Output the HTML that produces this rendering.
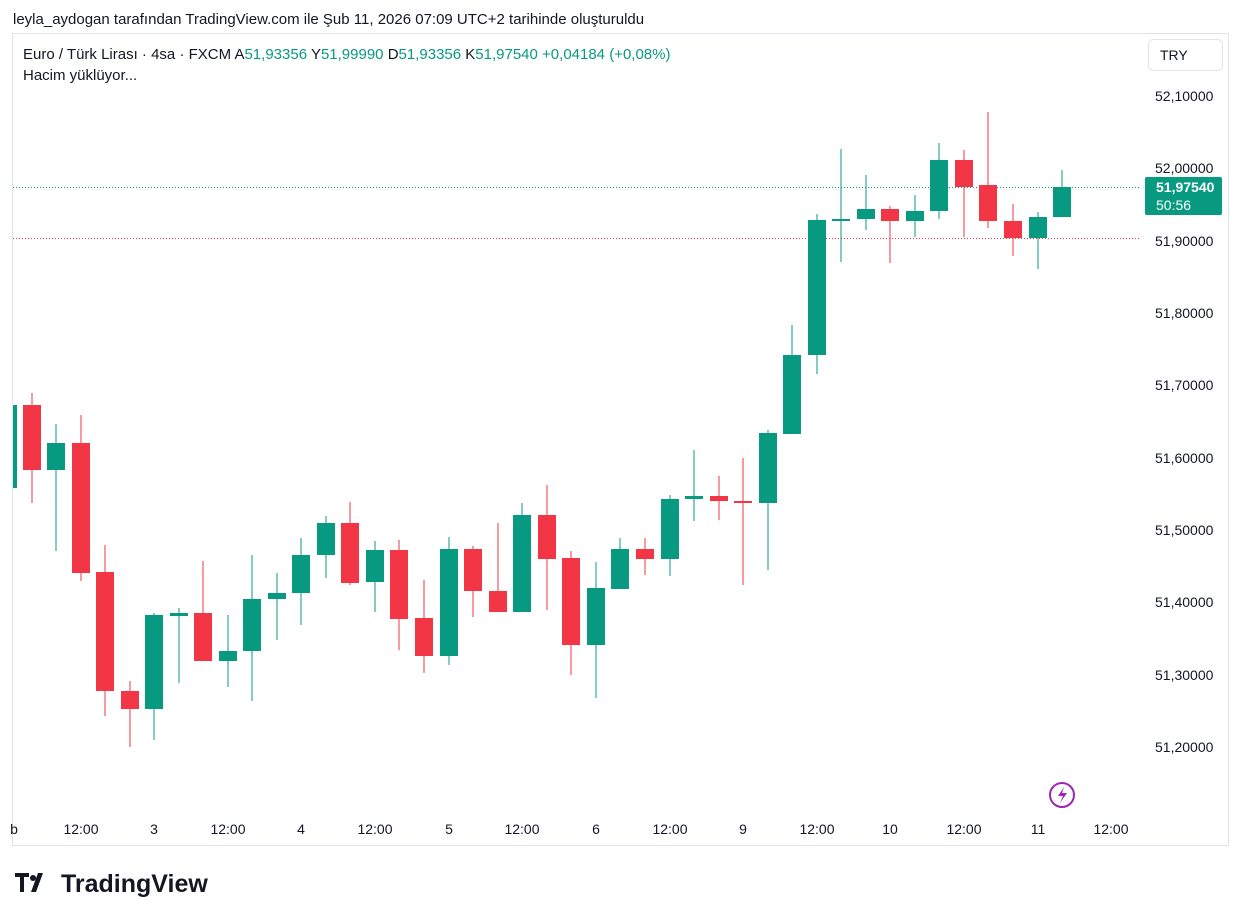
<!DOCTYPE html>
<html><head><meta charset="utf-8"><style>
html,body{margin:0;padding:0;background:#fff;}
svg{display:block;font-family:"Liberation Sans",sans-serif;}
</style></head><body>
<svg width="1242" height="921" xmlns="http://www.w3.org/2000/svg">
<rect width="1242" height="921" fill="#fff"/>
<text x="13" y="24" font-size="15" fill="#131722">leyla_aydogan tarafından TradingView.com ile Şub 11, 2026 07:09 UTC+2 tarihinde oluşturuldu</text>
<rect x="12.5" y="33.5" width="1216" height="812" fill="none" stroke="#e0e3eb"/>
<text x="23" y="59" font-size="15" fill="#131722">Euro / Türk Lirası · 4sa · FXCM <tspan>A</tspan><tspan fill="#089981">51,93356</tspan> Y<tspan fill="#089981">51,99990</tspan> D<tspan fill="#089981">51,93356</tspan> K<tspan fill="#089981">51,97540</tspan> <tspan fill="#089981">+0,04184 (+0,08%)</tspan></text>
<text x="23" y="80" font-size="15" fill="#131722">Hacim yüklüyor...</text>
<rect x="1148.5" y="39.5" width="74" height="31" rx="5" fill="#fff" stroke="#e0e3eb"/>
<text x="1160" y="60" font-size="14" fill="#131722">TRY</text>
<g font-size="14" fill="#131722">
<text x="1155" y="101">52,10000</text>
<text x="1155" y="173">52,00000</text>
<text x="1155" y="246">51,90000</text>
<text x="1155" y="318">51,80000</text>
<text x="1155" y="390">51,70000</text>
<text x="1155" y="463">51,60000</text>
<text x="1155" y="535">51,50000</text>
<text x="1155" y="607">51,40000</text>
<text x="1155" y="680">51,30000</text>
<text x="1155" y="752">51,20000</text>
</g>
<line x1="13" y1="187.5" x2="1140" y2="187.5" stroke="#089981" stroke-dasharray="1,2"/>
<line x1="13" y1="238.5" x2="1140" y2="238.5" stroke="#f23645" stroke-dasharray="1,2"/>
<rect x="1145" y="177" width="77" height="38" rx="2" fill="#089981"/>
<text x="1156" y="192" font-size="14" font-weight="bold" fill="#fff">51,97540</text>
<text x="1156" y="210" font-size="14" fill="#fff">50:56</text>
<g fill="#089981">
<rect x="13" y="405" width="4" height="83"/>
<rect x="55.5" y="424" width="1" height="127"/><rect x="47" y="443" width="18" height="27"/>
<rect x="153.5" y="613" width="1" height="127"/><rect x="145" y="615" width="18" height="94"/>
<rect x="178.5" y="608" width="1" height="75"/><rect x="170" y="613" width="18" height="3"/>
<rect x="227.5" y="615" width="1" height="72"/><rect x="219" y="651" width="18" height="10"/>
<rect x="251.5" y="555" width="1" height="146"/><rect x="243" y="599" width="18" height="52"/>
<rect x="276.5" y="573" width="1" height="67"/><rect x="268" y="593" width="18" height="6"/>
<rect x="300.5" y="538" width="1" height="87"/><rect x="292" y="555" width="18" height="38"/>
<rect x="325.5" y="516" width="1" height="62"/><rect x="317" y="523" width="18" height="32"/>
<rect x="374.5" y="541" width="1" height="71"/><rect x="366" y="550" width="18" height="32"/>
<rect x="448.5" y="537" width="1" height="128"/><rect x="440" y="549" width="18" height="107"/>
<rect x="521.5" y="503" width="1" height="109"/><rect x="513" y="515" width="18" height="97"/>
<rect x="595.5" y="562" width="1" height="136"/><rect x="587" y="588" width="18" height="57"/>
<rect x="619.5" y="538" width="1" height="51"/><rect x="611" y="549" width="18" height="40"/>
<rect x="669.5" y="495" width="1" height="81"/><rect x="661" y="499" width="18" height="60"/>
<rect x="693.5" y="450" width="1" height="71"/><rect x="685" y="496" width="18" height="3"/>
<rect x="767.5" y="430" width="1" height="140"/><rect x="759" y="433" width="18" height="70"/>
<rect x="791.5" y="325" width="1" height="109"/><rect x="783" y="355" width="18" height="79"/>
<rect x="816.5" y="214" width="1" height="160"/><rect x="808" y="220" width="18" height="135"/>
<rect x="840.5" y="149" width="1" height="113"/><rect x="832" y="219" width="18" height="2"/>
<rect x="865.5" y="175" width="1" height="55"/><rect x="857" y="209" width="18" height="10"/>
<rect x="914.5" y="195" width="1" height="42"/><rect x="906" y="211" width="18" height="10"/>
<rect x="938.5" y="143" width="1" height="76"/><rect x="930" y="160" width="18" height="51"/>
<rect x="1037.5" y="212" width="1" height="57"/><rect x="1029" y="217" width="18" height="21"/>
<rect x="1061.5" y="170" width="1" height="47"/><rect x="1053" y="187" width="18" height="30"/>
</g>
<g fill="#f23645">
<rect x="31.5" y="393" width="1" height="110"/><rect x="23" y="405" width="18" height="65"/>
<rect x="80.5" y="415" width="1" height="166"/><rect x="72" y="443" width="18" height="130"/>
<rect x="104.5" y="545" width="1" height="171"/><rect x="96" y="572" width="18" height="119"/>
<rect x="129.5" y="681" width="1" height="66"/><rect x="121" y="691" width="18" height="18"/>
<rect x="202.5" y="561" width="1" height="100"/><rect x="194" y="613" width="18" height="48"/>
<rect x="349.5" y="502" width="1" height="83"/><rect x="341" y="523" width="18" height="60"/>
<rect x="398.5" y="540" width="1" height="110"/><rect x="390" y="550" width="18" height="69"/>
<rect x="423.5" y="580" width="1" height="93"/><rect x="415" y="618" width="18" height="38"/>
<rect x="472.5" y="546" width="1" height="71"/><rect x="464" y="549" width="18" height="42"/>
<rect x="497.5" y="523" width="1" height="89"/><rect x="489" y="591" width="18" height="21"/>
<rect x="546.5" y="485" width="1" height="125"/><rect x="538" y="515" width="18" height="44"/>
<rect x="570.5" y="551" width="1" height="124"/><rect x="562" y="558" width="18" height="87"/>
<rect x="644.5" y="538" width="1" height="37"/><rect x="636" y="549" width="18" height="10"/>
<rect x="718.5" y="476" width="1" height="44"/><rect x="710" y="496" width="18" height="5"/>
<rect x="742.5" y="458" width="1" height="127"/><rect x="734" y="501" width="18" height="2"/>
<rect x="889.5" y="206" width="1" height="57"/><rect x="881" y="209" width="18" height="12"/>
<rect x="963.5" y="150" width="1" height="87"/><rect x="955" y="160" width="18" height="27"/>
<rect x="987.5" y="112" width="1" height="116"/><rect x="979" y="185" width="18" height="36"/>
<rect x="1012.5" y="204" width="1" height="52"/><rect x="1004" y="221" width="18" height="17"/>
</g>
<g font-size="14" fill="#131722" text-anchor="middle">
<text x="14" y="834">b</text>
<text x="81" y="834">12:00</text><text x="154" y="834">3</text>
<text x="228" y="834">12:00</text><text x="301" y="834">4</text>
<text x="375" y="834">12:00</text><text x="449" y="834">5</text>
<text x="522" y="834">12:00</text><text x="596" y="834">6</text>
<text x="670" y="834">12:00</text><text x="743" y="834">9</text>
<text x="817" y="834">12:00</text><text x="890" y="834">10</text>
<text x="964" y="834">12:00</text><text x="1038" y="834">11</text>
<text x="1111" y="834">12:00</text>
</g>
<circle cx="1062" cy="795" r="12" fill="none" stroke="#9c27b0" stroke-width="2"/>
<path d="M1064 787 L1058 796 L1063 796 L1060 803 L1067 793 L1062 793 Z" fill="#9c27b0"/>
<g fill="#131722">
<path d="M15 873 h14 v4 h-5 v15 h-4 v-15 h-5z"/>
<circle cx="33" cy="878" r="3"/>
<path d="M38 873 h5 l-7 19 h-5z"/>
</g>
<text x="61" y="892" font-size="25" font-weight="bold" fill="#131722">TradingView</text>
</svg>
</body></html>
